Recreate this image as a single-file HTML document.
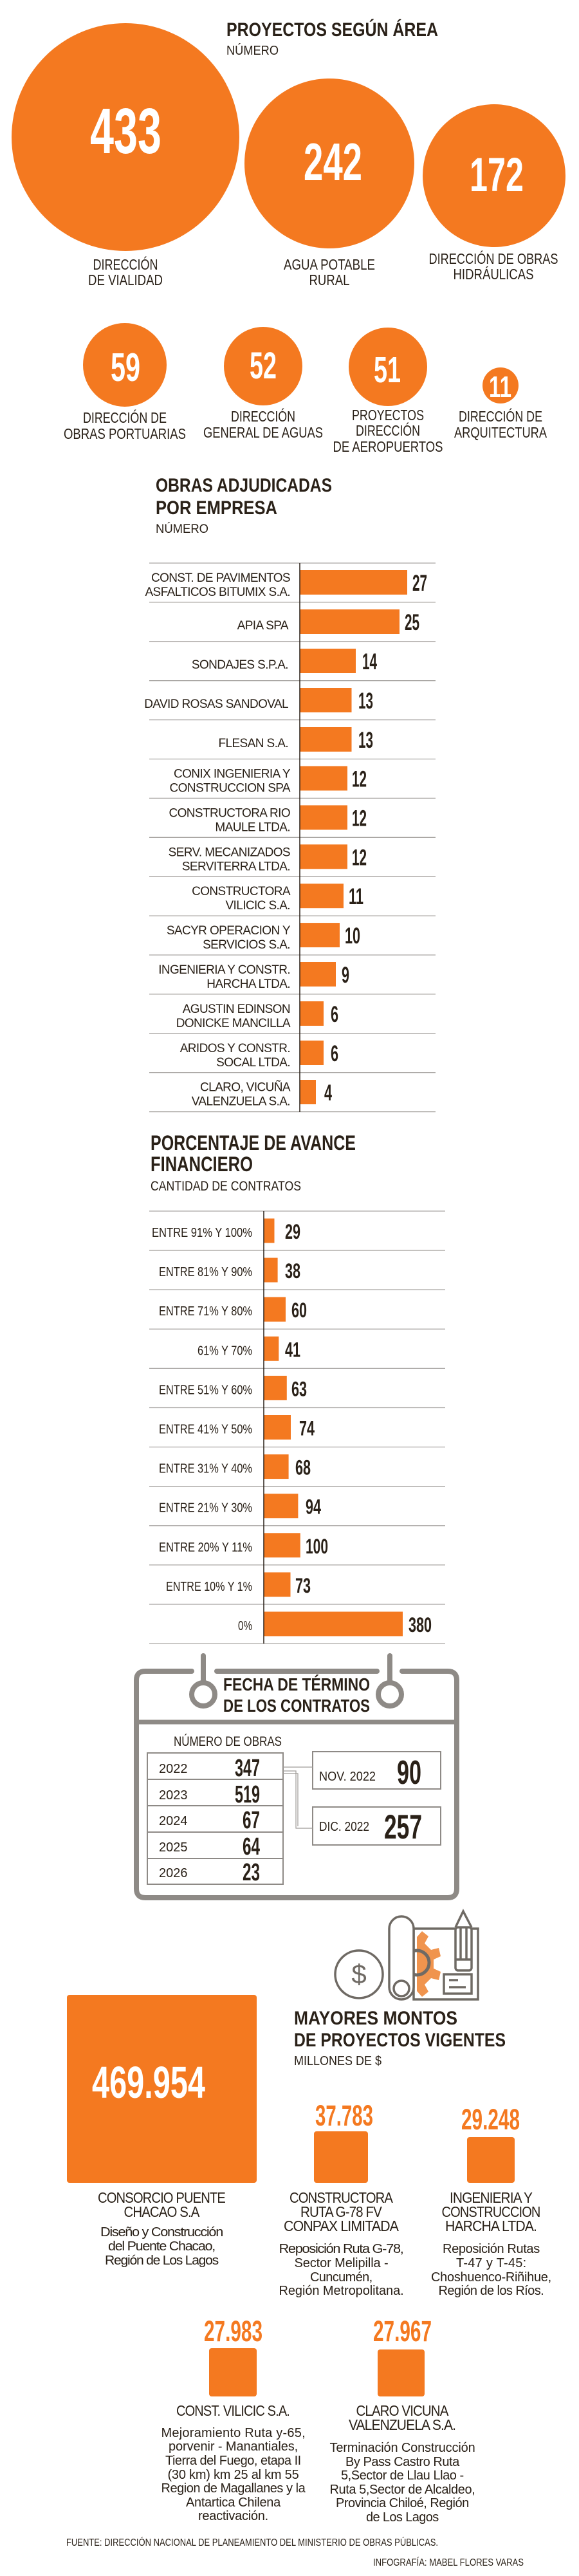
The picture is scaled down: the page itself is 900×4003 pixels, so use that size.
<!DOCTYPE html>
<html><head><meta charset="utf-8"><style>
html,body{margin:0;padding:0;background:#fff}
svg{display:block}
text{font-family:"Liberation Sans Narrow","Liberation Sans",sans-serif;fill:#2a2118}
.h{font-weight:bold}
.n{font-weight:bold;fill:#fff}
.v{font-weight:bold}
.o{font-weight:bold;fill:#f47920}
.lb{font-size:19px;letter-spacing:-0.6px}
.pl{font-size:20px}
.cl{font-size:23px;letter-spacing:-1px}
.ds{font-size:20px;letter-spacing:-1.2px}
</style></head><body>
<svg width="900" height="4003" viewBox="0 0 900 4003" xmlns="http://www.w3.org/2000/svg">
<rect width="900" height="4003" fill="#fff"/>
<text x="352" y="56" class="h" font-size="30" textLength="329" lengthAdjust="spacingAndGlyphs">PROYECTOS SEGÚN ÁREA</text>
<text x="352" y="85" font-size="20" textLength="81" lengthAdjust="spacingAndGlyphs">NÚMERO</text>
<g fill="#f47920">
<circle cx="195" cy="213" r="177"/>
<circle cx="512" cy="254" r="132"/>
<circle cx="768" cy="273" r="111"/>
<circle cx="194" cy="567" r="65"/>
<circle cx="409" cy="569" r="61"/>
<circle cx="603" cy="570" r="61"/>
<circle cx="778" cy="599" r="28"/>
</g>
<text x="140" y="238" class="n" font-size="100" textLength="111" lengthAdjust="spacingAndGlyphs">433</text>
<text x="472" y="280" class="n" font-size="83" textLength="91" lengthAdjust="spacingAndGlyphs">242</text>
<text x="730" y="297" class="n" font-size="74" textLength="84" lengthAdjust="spacingAndGlyphs">172</text>
<text x="172" y="592" class="n" font-size="62" textLength="46" lengthAdjust="spacingAndGlyphs">59</text>
<text x="388" y="588" class="n" font-size="58" textLength="42" lengthAdjust="spacingAndGlyphs">52</text>
<text x="581" y="594" class="n" font-size="57" textLength="42" lengthAdjust="spacingAndGlyphs">51</text>
<text x="760" y="617" class="n" font-size="46" textLength="35" lengthAdjust="spacingAndGlyphs">11</text>
<g font-size="23" text-anchor="middle">
<text x="195" y="419" textLength="101" lengthAdjust="spacingAndGlyphs">DIRECCIÓN</text>
<text x="195" y="443" textLength="116" lengthAdjust="spacingAndGlyphs">DE VIALIDAD</text>
<text x="512" y="419" textLength="142" lengthAdjust="spacingAndGlyphs">AGUA POTABLE</text>
<text x="512" y="443" textLength="63" lengthAdjust="spacingAndGlyphs">RURAL</text>
<text x="767" y="410" textLength="201" lengthAdjust="spacingAndGlyphs">DIRECCIÓN DE OBRAS</text>
<text x="767" y="434" textLength="125" lengthAdjust="spacingAndGlyphs">HIDRÁULICAS</text>
<text x="194" y="657" textLength="130" lengthAdjust="spacingAndGlyphs">DIRECCIÓN DE</text>
<text x="194" y="682" textLength="190" lengthAdjust="spacingAndGlyphs">OBRAS PORTUARIAS</text>
<text x="409" y="655" textLength="100" lengthAdjust="spacingAndGlyphs">DIRECCIÓN</text>
<text x="409" y="680" textLength="186" lengthAdjust="spacingAndGlyphs">GENERAL DE AGUAS</text>
<text x="603" y="653" textLength="112" lengthAdjust="spacingAndGlyphs">PROYECTOS</text>
<text x="603" y="677" textLength="100" lengthAdjust="spacingAndGlyphs">DIRECCIÓN</text>
<text x="603" y="702" textLength="171" lengthAdjust="spacingAndGlyphs">DE AEROPUERTOS</text>
<text x="778" y="655" textLength="130" lengthAdjust="spacingAndGlyphs">DIRECCIÓN DE</text>
<text x="778" y="680" textLength="144" lengthAdjust="spacingAndGlyphs">ARQUITECTURA</text>
</g>

<text x="242" y="764" class="h" font-size="30" textLength="274" lengthAdjust="spacingAndGlyphs">OBRAS ADJUDICADAS</text>
<text x="242" y="799" class="h" font-size="30" textLength="189" lengthAdjust="spacingAndGlyphs">POR EMPRESA</text>
<text x="242" y="828" font-size="19" textLength="82" lengthAdjust="spacingAndGlyphs">NÚMERO</text>
<g stroke="#a8a5a2" stroke-width="1.3">
<line x1="232" x2="677" y1="875" y2="875"/><line x1="232" x2="677" y1="935.9" y2="935.9"/><line x1="232" x2="677" y1="996.8" y2="996.8"/><line x1="232" x2="677" y1="1057.7" y2="1057.7"/><line x1="232" x2="677" y1="1118.6" y2="1118.6"/><line x1="232" x2="677" y1="1179.5" y2="1179.5"/><line x1="232" x2="677" y1="1240.4" y2="1240.4"/><line x1="232" x2="677" y1="1301.3" y2="1301.3"/><line x1="232" x2="677" y1="1362.2" y2="1362.2"/><line x1="232" x2="677" y1="1423.1" y2="1423.1"/><line x1="232" x2="677" y1="1484" y2="1484"/><line x1="232" x2="677" y1="1544.9" y2="1544.9"/><line x1="232" x2="677" y1="1605.8" y2="1605.8"/><line x1="232" x2="677" y1="1666.7" y2="1666.7"/><line x1="232" x2="677" y1="1727.6" y2="1727.6"/>
</g>
<g fill="#f47920">
<rect x="466" y="886" width="167" height="38"/>
<rect x="466" y="947" width="155" height="38"/>
<rect x="466" y="1008" width="87" height="38"/>
<rect x="466" y="1069" width="80.5" height="38"/>
<rect x="466" y="1130" width="80.5" height="38"/>
<rect x="466" y="1190.5" width="74" height="38"/>
<rect x="466" y="1251.4" width="74" height="38"/>
<rect x="466" y="1312.3" width="74" height="38"/>
<rect x="466" y="1373.2" width="68" height="38"/>
<rect x="466" y="1434.1" width="62" height="38"/>
<rect x="466" y="1495" width="56" height="38"/>
<rect x="466" y="1556" width="37" height="38"/>
<rect x="466" y="1617" width="37" height="38"/>
<rect x="466" y="1678" width="25" height="38"/>
</g>
<line x1="466" x2="466" y1="875" y2="1728" stroke="#2a2118" stroke-width="1.5"/>
<g class="lb" text-anchor="end">
<text x="451" y="904">CONST. DE PAVIMENTOS</text><text x="451" y="926">ASFALTICOS BITUMIX S.A.</text>
<text x="448" y="978">APIA SPA</text>
<text x="448" y="1039">SONDAJES S.P.A.</text>
<text x="448" y="1100">DAVID ROSAS SANDOVAL</text>
<text x="448" y="1161">FLESAN S.A.</text>
<text x="451" y="1208.5">CONIX INGENIERIA Y</text><text x="451" y="1230.5">CONSTRUCCION SPA</text>
<text x="451" y="1269.4">CONSTRUCTORA RIO</text><text x="451" y="1291.4">MAULE LTDA.</text>
<text x="451" y="1330.3">SERV. MECANIZADOS</text><text x="451" y="1352.3">SERVITERRA LTDA.</text>
<text x="451" y="1391.2">CONSTRUCTORA</text><text x="451" y="1413.2">VILICIC S.A.</text>
<text x="451" y="1452.1">SACYR OPERACION Y</text><text x="451" y="1474.1">SERVICIOS S.A.</text>
<text x="451" y="1513">INGENIERIA Y CONSTR.</text><text x="451" y="1535">HARCHA LTDA.</text>
<text x="451" y="1573.9">AGUSTIN EDINSON</text><text x="451" y="1595.9">DONICKE MANCILLA</text>
<text x="451" y="1634.8">ARIDOS Y CONSTR.</text><text x="451" y="1656.8">SOCAL LTDA.</text>
<text x="451" y="1695.7">CLARO, VICUÑA</text><text x="451" y="1717.7">VALENZUELA S.A.</text>
</g>
<g class="v" font-size="35">
<text x="641" y="918" textLength="23" lengthAdjust="spacingAndGlyphs">27</text>
<text x="629" y="979" textLength="23" lengthAdjust="spacingAndGlyphs">25</text>
<text x="563" y="1040" textLength="23" lengthAdjust="spacingAndGlyphs">14</text>
<text x="557" y="1101" textLength="23" lengthAdjust="spacingAndGlyphs">13</text>
<text x="557" y="1162" textLength="23" lengthAdjust="spacingAndGlyphs">13</text>
<text x="547" y="1222.5" textLength="23" lengthAdjust="spacingAndGlyphs">12</text>
<text x="547" y="1283.4" textLength="23" lengthAdjust="spacingAndGlyphs">12</text>
<text x="547" y="1344.3" textLength="23" lengthAdjust="spacingAndGlyphs">12</text>
<text x="542" y="1405.2" textLength="23" lengthAdjust="spacingAndGlyphs">11</text>
<text x="536" y="1466.1" textLength="24" lengthAdjust="spacingAndGlyphs">10</text>
<text x="531" y="1527" textLength="12" lengthAdjust="spacingAndGlyphs">9</text>
<text x="514" y="1588" textLength="12" lengthAdjust="spacingAndGlyphs">6</text>
<text x="514" y="1649" textLength="12" lengthAdjust="spacingAndGlyphs">6</text>
<text x="504" y="1710" textLength="12" lengthAdjust="spacingAndGlyphs">4</text>
</g>

<text x="234" y="1787" class="h" font-size="32" textLength="319" lengthAdjust="spacingAndGlyphs">PORCENTAJE DE AVANCE</text>
<text x="234" y="1820" class="h" font-size="32" textLength="159" lengthAdjust="spacingAndGlyphs">FINANCIERO</text>
<text x="234" y="1850" font-size="21" textLength="234" lengthAdjust="spacingAndGlyphs">CANTIDAD DE CONTRATOS</text>
<g stroke="#a8a5a2" stroke-width="1.3">
<line x1="232" x2="692" y1="1882" y2="1882"/><line x1="232" x2="692" y1="1943.1" y2="1943.1"/><line x1="232" x2="692" y1="2004.2" y2="2004.2"/><line x1="232" x2="692" y1="2065.3" y2="2065.3"/><line x1="232" x2="692" y1="2126.4" y2="2126.4"/><line x1="232" x2="692" y1="2187.5" y2="2187.5"/><line x1="232" x2="692" y1="2248.6" y2="2248.6"/><line x1="232" x2="692" y1="2309.7" y2="2309.7"/><line x1="232" x2="692" y1="2370.8" y2="2370.8"/><line x1="232" x2="692" y1="2431.9" y2="2431.9"/><line x1="232" x2="692" y1="2493" y2="2493"/><line x1="232" x2="692" y1="2554.1" y2="2554.1"/>
</g>
<g fill="#f47920">
<rect x="410" y="1893.5" width="16.5" height="38"/>
<rect x="410" y="1954.6" width="21.6" height="38"/>
<rect x="410" y="2015.7" width="34" height="38"/>
<rect x="410" y="2076.8" width="23.3" height="38"/>
<rect x="410" y="2137.9" width="35.8" height="38"/>
<rect x="410" y="2199" width="42" height="38"/>
<rect x="410" y="2260.1" width="38.6" height="38"/>
<rect x="410" y="2321.2" width="53.4" height="38"/>
<rect x="410" y="2382.3" width="56.8" height="38"/>
<rect x="410" y="2443.4" width="41.5" height="38"/>
<rect x="410" y="2504.5" width="216" height="38"/>
</g>
<line x1="410" x2="410" y1="1882" y2="2554" stroke="#2a2118" stroke-width="1.5"/>
<g class="pl" text-anchor="end">
<text x="392" y="1922" textLength="156" lengthAdjust="spacingAndGlyphs">ENTRE 91% Y 100%</text>
<text x="392" y="1983.1" textLength="145" lengthAdjust="spacingAndGlyphs">ENTRE 81% Y 90%</text>
<text x="392" y="2044.2" textLength="145" lengthAdjust="spacingAndGlyphs">ENTRE 71% Y 80%</text>
<text x="392" y="2105.3" textLength="85" lengthAdjust="spacingAndGlyphs">61% Y 70%</text>
<text x="392" y="2166.4" textLength="145" lengthAdjust="spacingAndGlyphs">ENTRE 51% Y 60%</text>
<text x="392" y="2227.5" textLength="145" lengthAdjust="spacingAndGlyphs">ENTRE 41% Y 50%</text>
<text x="392" y="2288.6" textLength="145" lengthAdjust="spacingAndGlyphs">ENTRE 31% Y 40%</text>
<text x="392" y="2349.7" textLength="145" lengthAdjust="spacingAndGlyphs">ENTRE 21% Y 30%</text>
<text x="392" y="2410.8" textLength="145" lengthAdjust="spacingAndGlyphs">ENTRE 20% Y 11%</text>
<text x="392" y="2471.9" textLength="134" lengthAdjust="spacingAndGlyphs">ENTRE 10% Y 1%</text>
<text x="392" y="2533" textLength="22" lengthAdjust="spacingAndGlyphs">0%</text>
</g>
<g class="v" font-size="32">
<text x="443" y="1925" textLength="24" lengthAdjust="spacingAndGlyphs">29</text>
<text x="443" y="1986.1" textLength="24" lengthAdjust="spacingAndGlyphs">38</text>
<text x="453" y="2047.2" textLength="24" lengthAdjust="spacingAndGlyphs">60</text>
<text x="443" y="2108.3" textLength="24" lengthAdjust="spacingAndGlyphs">41</text>
<text x="453" y="2169.4" textLength="24" lengthAdjust="spacingAndGlyphs">63</text>
<text x="465" y="2230.5" textLength="24" lengthAdjust="spacingAndGlyphs">74</text>
<text x="459" y="2291.6" textLength="24" lengthAdjust="spacingAndGlyphs">68</text>
<text x="475" y="2352.7" textLength="24" lengthAdjust="spacingAndGlyphs">94</text>
<text x="475" y="2413.8" textLength="35" lengthAdjust="spacingAndGlyphs">100</text>
<text x="459" y="2474.9" textLength="24" lengthAdjust="spacingAndGlyphs">73</text>
<text x="635" y="2536" textLength="36" lengthAdjust="spacingAndGlyphs">380</text>
</g>

<g stroke="#8e8a86" fill="none" stroke-width="8" stroke-linecap="round">
<path d="M298 2597 H226 Q212 2597 212 2611 V2935 Q212 2949 226 2949 H696 Q710 2949 710 2935 V2611 Q710 2597 696 2597 H625"/>
<line x1="337" y1="2597" x2="586" y2="2597"/>
<line x1="316" y1="2573" x2="316" y2="2612"/>
<line x1="606" y1="2573" x2="606" y2="2612"/>
<circle cx="316" cy="2633" r="18"/>
<circle cx="606" cy="2633" r="18"/>
<line x1="212" y1="2676" x2="710" y2="2676" stroke-linecap="butt" stroke-width="7"/>
</g>
<text x="347" y="2627" class="h" font-size="28" textLength="228" lengthAdjust="spacingAndGlyphs">FECHA DE TÉRMINO</text>
<text x="347" y="2660" class="h" font-size="28" textLength="228" lengthAdjust="spacingAndGlyphs">DE LOS CONTRATOS</text>
<text x="270" y="2713" font-size="21" textLength="168" lengthAdjust="spacingAndGlyphs">NÚMERO DE OBRAS</text>
<g stroke="#8e8a86" fill="none" stroke-width="2">
<rect x="229" y="2724" width="211" height="204"/>
<line x1="229" x2="440" y1="2765" y2="2765"/><line x1="229" x2="440" y1="2806" y2="2806"/><line x1="229" x2="440" y1="2847" y2="2847"/><line x1="229" x2="440" y1="2888" y2="2888"/>
<rect x="486" y="2722" width="199" height="58"/>
<rect x="486" y="2808" width="199" height="59"/>
</g>
<g stroke="#9e9a96" fill="none" stroke-width="1.2">
<polyline points="440,2746 486,2746"/>
<polyline points="440,2752 460,2752 460,2841 486,2841"/>
<polyline points="440,2756 463,2756 463,2838"/>
</g>
<g font-size="20">
<text x="247" y="2755">2022</text><text x="247" y="2796">2023</text><text x="247" y="2836">2024</text><text x="247" y="2877">2025</text><text x="247" y="2917">2026</text>
<text x="496" y="2767" textLength="88" lengthAdjust="spacingAndGlyphs">NOV. 2022</text>
<text x="496" y="2845" textLength="78" lengthAdjust="spacingAndGlyphs">DIC. 2022</text>
</g>
<g class="v" font-size="38" text-anchor="end">
<text x="404" y="2760" textLength="39" lengthAdjust="spacingAndGlyphs">347</text>
<text x="404" y="2801" textLength="39" lengthAdjust="spacingAndGlyphs">519</text>
<text x="404" y="2841" textLength="27" lengthAdjust="spacingAndGlyphs">67</text>
<text x="404" y="2882" textLength="27" lengthAdjust="spacingAndGlyphs">64</text>
<text x="404" y="2922" textLength="27" lengthAdjust="spacingAndGlyphs">23</text>
</g>
<text x="617" y="2772" class="v" font-size="52" textLength="38" lengthAdjust="spacingAndGlyphs">90</text>
<text x="597" y="2857" class="v" font-size="53" textLength="59" lengthAdjust="spacingAndGlyphs">257</text>

<g fill="none" stroke="#6f6a64" stroke-width="3.5">
<path d="M648 3010 l8 -9 l10 8 l-6 11 l10 10 l12 -3 l3 13 l-11 5 v14 l11 5 l-3 13 l-12 -3 l-10 10 l6 11 l-10 8 l-8 -9" fill="#f0944e" stroke="none"/>
<circle cx="648" cy="3050" r="19" stroke-width="5"/>
<rect x="643" y="2997" width="100" height="110"/>
<rect x="605" y="2978" width="38" height="129" rx="19" fill="#fff"/>
<circle cx="624" cy="3090" r="12"/>
<circle cx="558" cy="3068" r="37"/>
<rect x="708" y="2995" width="25" height="67" rx="4" fill="#fff"/>
<path d="M708 2995 L720 2970 L733 2995"/>
<line x1="708" y1="3045" x2="733" y2="3045"/>
<line x1="716" y1="2995" x2="716" y2="3045"/><line x1="725" y1="2995" x2="725" y2="3045"/>
<rect x="690" y="3068" width="43" height="30" fill="#fff"/>
<line x1="698" y1="3077" x2="712" y2="3077"/><line x1="698" y1="3088" x2="724" y2="3088"/>
</g>
<text x="558" y="3082" text-anchor="middle" font-size="42" style="fill:#6f6a64">$</text>

<text x="457" y="3146" class="h" font-size="30" textLength="254" lengthAdjust="spacingAndGlyphs">MAYORES MONTOS</text>
<text x="457" y="3180" class="h" font-size="30" textLength="329" lengthAdjust="spacingAndGlyphs">DE PROYECTOS VIGENTES</text>
<text x="457" y="3209" font-size="20" textLength="136" lengthAdjust="spacingAndGlyphs">MILLONES DE $</text>
<g fill="#f47920">
<rect x="104" y="3100" width="295" height="292" rx="4"/>
<rect x="488" y="3312" width="84" height="80" rx="4"/>
<rect x="726" y="3321" width="74" height="71" rx="4"/>
<rect x="325" y="3649" width="74" height="75" rx="4"/>
<rect x="587" y="3651" width="73" height="73" rx="4"/>
</g>
<text x="143" y="3260" class="n" font-size="70" textLength="176" lengthAdjust="spacingAndGlyphs">469.954</text>
<text x="490" y="3303" class="o" font-size="45" textLength="90" lengthAdjust="spacingAndGlyphs">37.783</text>
<text x="717" y="3309" class="o" font-size="45" textLength="91" lengthAdjust="spacingAndGlyphs">29.248</text>
<text x="317" y="3638" class="o" font-size="45" textLength="91" lengthAdjust="spacingAndGlyphs">27.983</text>
<text x="580" y="3638" class="o" font-size="45" textLength="91" lengthAdjust="spacingAndGlyphs">27.967</text>
<g class="cl" text-anchor="middle">
<text x="251" y="3423" textLength="198" lengthAdjust="spacingAndGlyphs">CONSORCIO PUENTE</text>
<text x="251" y="3445" textLength="117" lengthAdjust="spacingAndGlyphs">CHACAO S.A</text>
<text x="530" y="3423" textLength="160" lengthAdjust="spacingAndGlyphs">CONSTRUCTORA</text>
<text x="530" y="3445" textLength="126" lengthAdjust="spacingAndGlyphs">RUTA G-78 FV</text>
<text x="530" y="3467" textLength="178" lengthAdjust="spacingAndGlyphs">CONPAX LIMITADA</text>
<text x="763" y="3423" textLength="128" lengthAdjust="spacingAndGlyphs">INGENIERIA Y</text>
<text x="763" y="3445" textLength="153" lengthAdjust="spacingAndGlyphs">CONSTRUCCION</text>
<text x="763" y="3467" textLength="142" lengthAdjust="spacingAndGlyphs">HARCHA LTDA.</text>
<text x="362" y="3754" textLength="176" lengthAdjust="spacingAndGlyphs">CONST. VILICIC S.A.</text>
<text x="625" y="3754" textLength="143" lengthAdjust="spacingAndGlyphs">CLARO VICUNA</text>
<text x="625" y="3776" textLength="166" lengthAdjust="spacingAndGlyphs">VALENZUELA S.A.</text>
</g>
<g class="ds" text-anchor="middle">
<text x="251" y="3475" textLength="190" lengthAdjust="spacingAndGlyphs">Diseño y Construcción</text>
<text x="251" y="3497" textLength="166" lengthAdjust="spacingAndGlyphs">del Puente Chacao,</text>
<text x="251" y="3519" textLength="176" lengthAdjust="spacingAndGlyphs">Región de Los Lagos</text>
<text x="530" y="3501" textLength="193" lengthAdjust="spacingAndGlyphs">Reposición Ruta G-78,</text>
<text x="530" y="3523" textLength="145">Sector Melipilla -</text>
<text x="530" y="3545" textLength="96">Cuncumén,</text>
<text x="530" y="3566" textLength="193">Región Metropolitana.</text>
<text x="763" y="3501" textLength="150">Reposición Rutas</text>
<text x="763" y="3523" textLength="108">T-47 y T-45:</text>
<text x="763" y="3545" textLength="186">Choshuenco-Riñihue,</text>
<text x="763" y="3566" textLength="163">Región de los Ríos.</text>
<text x="362" y="3787" textLength="223">Mejoramiento  Ruta y-65,</text>
<text x="362" y="3808" textLength="200">porvenir - Manantiales,</text>
<text x="362" y="3830" textLength="210">Tierra del Fuego, etapa II</text>
<text x="362" y="3852" textLength="203">(30 km) km 25 al km 55</text>
<text x="362" y="3873" textLength="223">Region de Magallanes y la</text>
<text x="362" y="3895" textLength="146">Antartica Chilena</text>
<text x="362" y="3916" textLength="108">reactivación.</text>
<text x="625" y="3810" textLength="225">Terminación Construcción</text>
<text x="625" y="3832" textLength="176">By Pass Castro Ruta</text>
<text x="625" y="3853" textLength="190">5,Sector de Llau Llao -</text>
<text x="625" y="3875" textLength="225">Ruta 5,Sector de Alcaldeo,</text>
<text x="625" y="3896" textLength="206">Provincia Chiloé, Región</text>
<text x="625" y="3918" textLength="112">de Los Lagos</text>
</g>
<text x="103" y="3956" font-size="16" textLength="578" lengthAdjust="spacingAndGlyphs">FUENTE: DIRECCIÓN NACIONAL DE PLANEAMIENTO DEL MINISTERIO DE OBRAS PÚBLICAS.</text>
<text x="580" y="3987" font-size="16" textLength="234" lengthAdjust="spacingAndGlyphs">INFOGRAFÍA: MABEL FLORES VARAS</text>
</svg>
</body></html>
